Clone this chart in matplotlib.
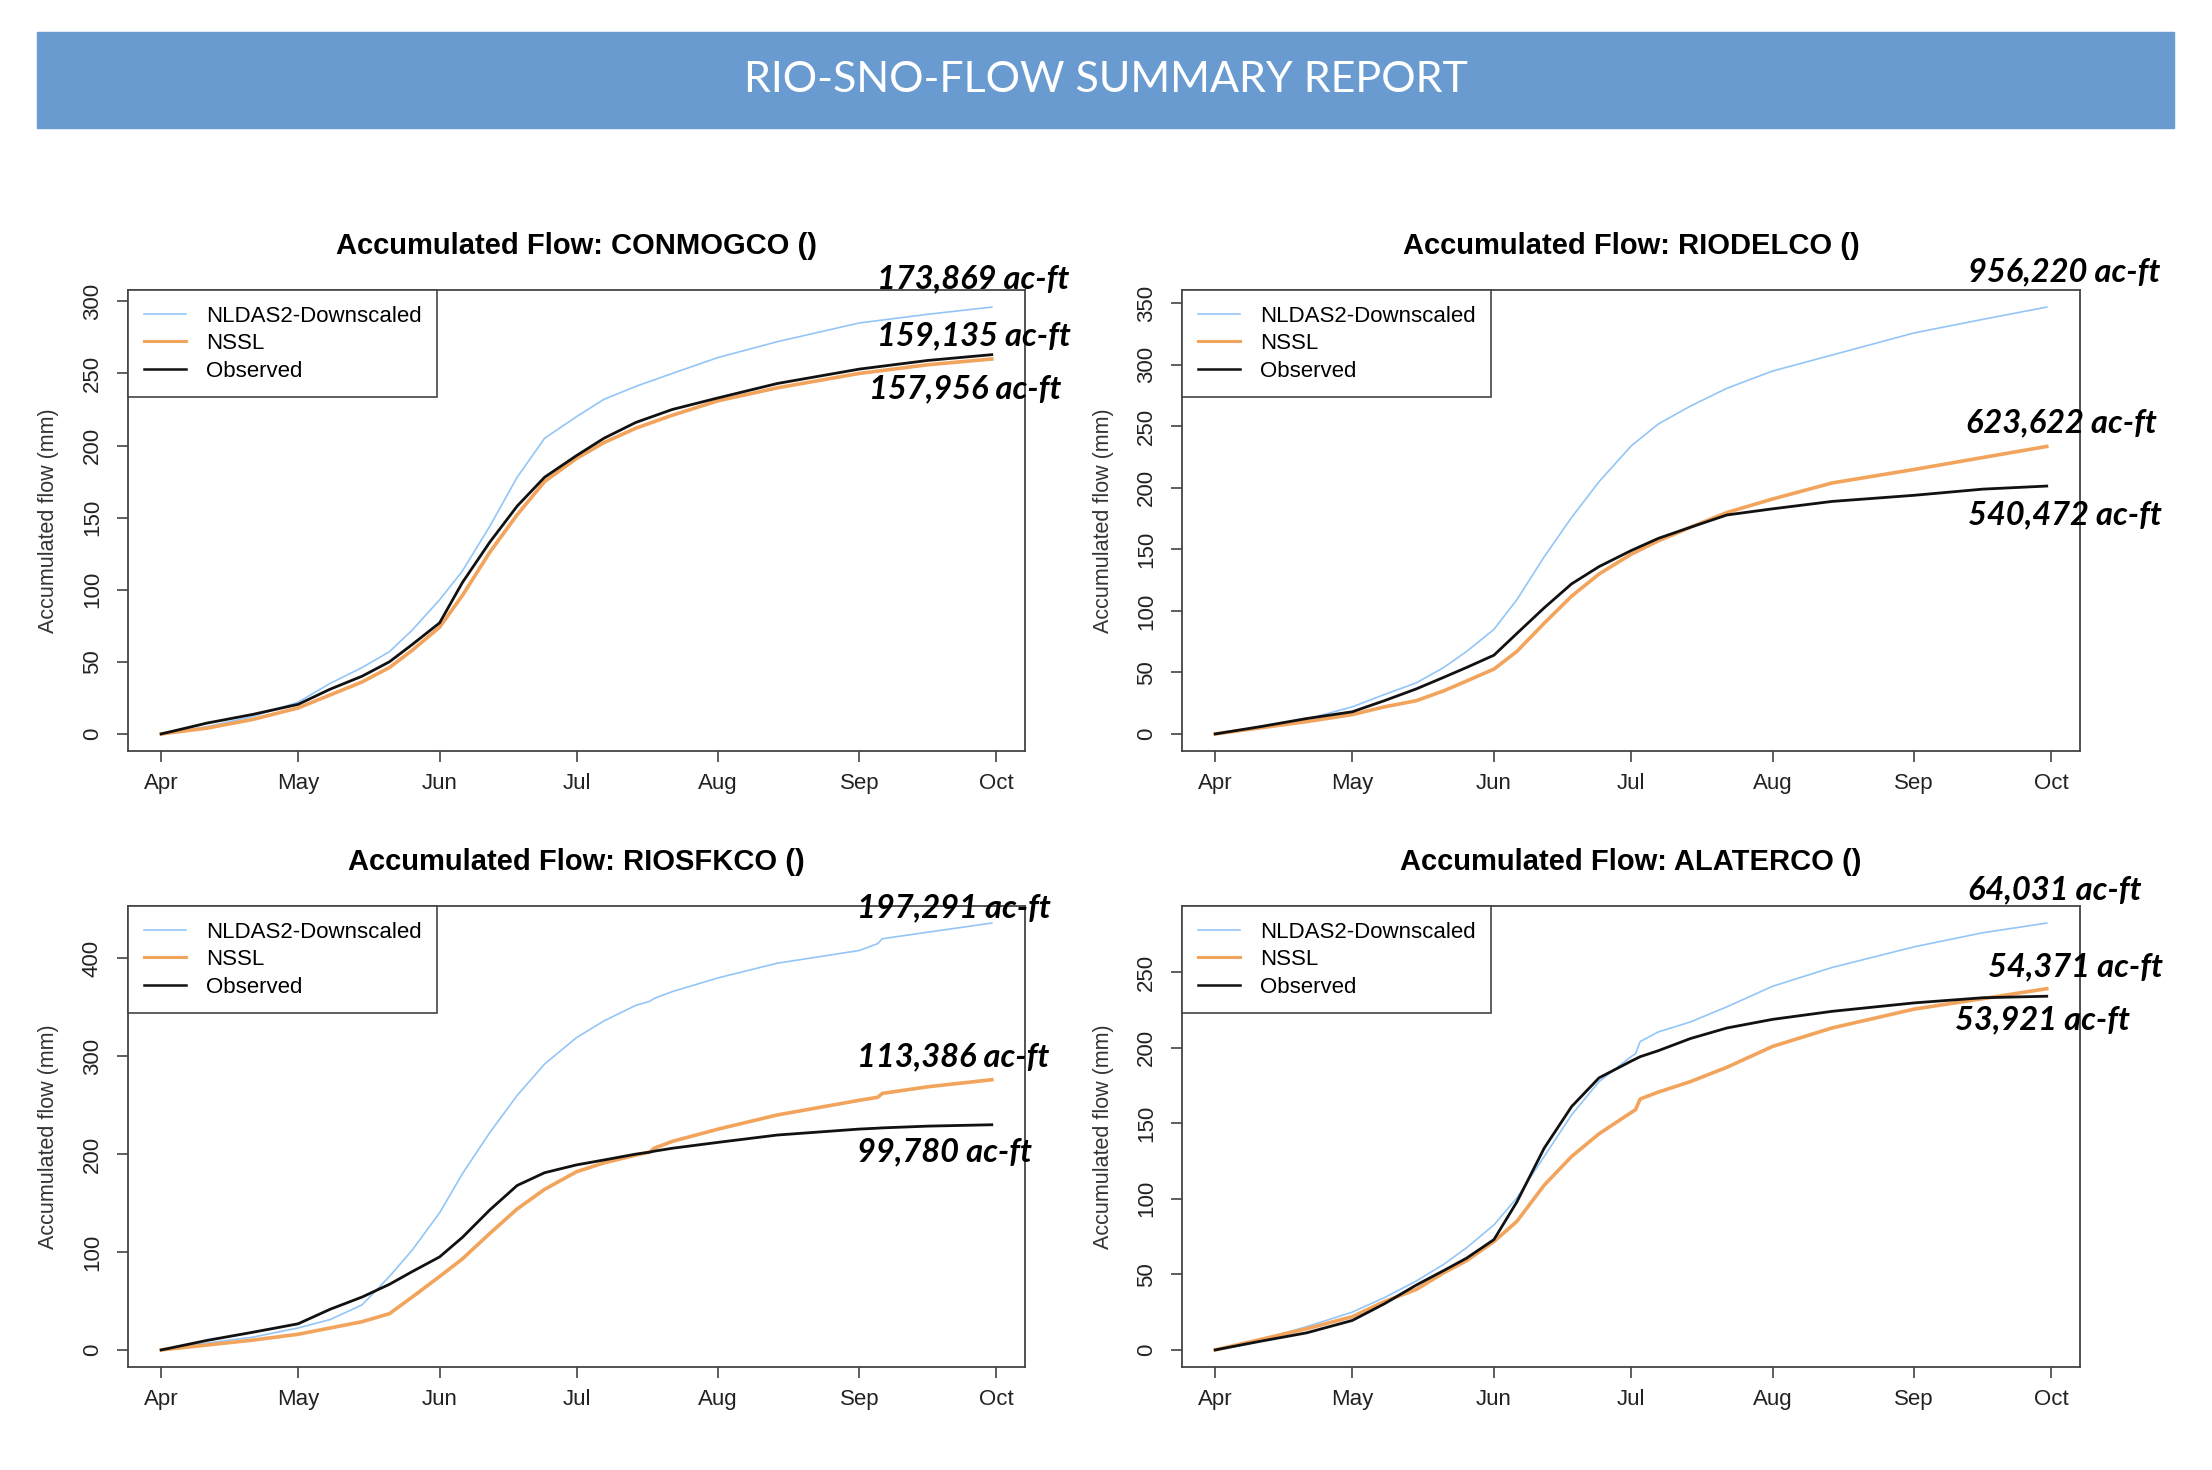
import numpy as np
import matplotlib.pyplot as plt

W, H = 2212, 1470

series_names = ["NLDAS2-Downscaled", "NSSL", "Observed"]
month_labels = ["Apr", "May", "Jun", "Jul", "Aug", "Sep", "Oct"]
month_days = [0, 30, 61, 91, 122, 153, 183]   # days after 1 April

# CONMOGCO
con_days = [0, 10, 20, 30, 37, 44, 50, 55, 61, 66, 72, 78, 84, 91, 97, 104, 112, 122, 135, 153, 168, 182]
con_nldas = [0, 5, 12, 22, 35, 46, 57, 72, 93, 113, 144, 178, 205, 220, 232, 241, 250, 261, 272, 285, 291, 296]
con_nssl = [0, 4, 10, 18, 27, 36, 46, 58, 74, 96, 126, 152, 175, 191, 202, 212, 221, 231, 240, 250, 256, 260]
con_obs = [0, 7.5, 13.5, 20.5, 31, 40, 50, 62, 77, 105, 133, 158, 178, 193, 205, 216, 225, 233, 243, 253, 259, 263]
con_acft = ["173,869 ac-ft", "159,135 ac-ft", "157,956 ac-ft"]

# RIODELCO
rio_days = [0, 10, 20, 30, 37, 44, 50, 55, 61, 66, 72, 78, 84, 91, 97, 104, 112, 122, 135, 153, 168, 182]
rio_nldas = [0, 5.5, 12, 22, 32, 41.5, 54, 67, 85, 109, 144, 176, 205, 234, 252, 266.5, 281, 295, 308, 326, 337, 347]
rio_nssl = [0, 5, 10, 15.7, 22, 27, 35, 43, 52.7, 67, 90, 112, 130, 146, 157, 168, 180, 191, 204, 215, 224.7, 233.7]
rio_obs = [0, 6, 12.5, 18, 27, 36.6, 46, 54, 64, 81.6, 102.5, 122, 136, 149, 159, 168, 178, 183, 189, 194, 199, 201.5]
rio_acft = ["956,220 ac-ft", "623,622 ac-ft", "540,472 ac-ft"]

# RIOSFKCO
sfk_days = [0, 10, 20, 30, 37, 44, 50, 55, 61, 66, 72, 78, 84, 91, 97, 104, 107, 108, 112, 122, 135, 153, 157, 158, 168, 182]
sfk_nldas = [0, 7, 13, 22.4, 31, 46, 75, 102, 140, 180, 222, 260, 292, 319, 336, 352, 356, 359, 366, 380, 395, 408, 415, 420, 426.7, 436]
sfk_nssl = [0, 5, 10, 16, 22.4, 28.8, 37, 54, 75, 93, 119, 144, 164, 182, 191, 199, 202, 206, 213, 225.5, 240, 255, 258, 262, 268.8, 276]
sfk_obs = [0, 9.7, 18, 26.7, 41.5, 54, 67, 80, 95, 115, 143, 168, 181, 189, 194, 200, 202, 203, 206, 212, 219.5, 225.6, 226.5, 226.8, 228.6, 230]
sfk_acft = ["197,291 ac-ft", "113,386 ac-ft", "99,780 ac-ft"]

# ALATERCO
ala_days = [0, 10, 20, 30, 37, 44, 50, 55, 61, 66, 72, 78, 84, 91, 92, 93, 97, 104, 112, 122, 135, 153, 168, 182]
ala_nldas = [0, 6.6, 15.4, 25, 34.6, 45.6, 56.6, 67.6, 82.7, 100.5, 128, 155.5, 177.5, 194, 196, 204, 210.4, 217, 227, 240.6, 253, 266.7, 276, 282.4]
ala_nssl = [0, 7, 14, 22, 32, 40, 51, 59, 71.7, 85, 109, 128, 143, 157, 159, 166, 170.6, 177.5, 187, 200.8, 213, 225.5, 232.4, 239]
ala_obs = [0, 5.8, 11.3, 19.5, 30.5, 42.9, 52.5, 60.7, 73, 97.8, 133.5, 161, 180, 191, 192.5, 194, 198, 206, 213, 218.7, 224, 229.6, 233, 234]
ala_acft = ["64,031 ac-ft", "54,371 ac-ft", "53,921 ac-ft"]

panels = [
    ("CONMOGCO", con_days, con_nldas, con_nssl, con_obs, con_acft, np.arange(0, 301, 50)),
    ("RIODELCO", rio_days, rio_nldas, rio_nssl, rio_obs, rio_acft, np.arange(0, 351, 50)),
    ("RIOSFKCO", sfk_days, sfk_nldas, sfk_nssl, sfk_obs, sfk_acft, np.arange(0, 401, 100)),
    ("ALATERCO", ala_days, ala_nldas, ala_nssl, ala_obs, ala_acft, np.arange(0, 251, 50)),
]

# pixel boxes (left, top, right, bottom) of each plot frame
boxes = [(128, 290, 1025, 751), (1182, 290, 2080, 751),
         (128, 906, 1025, 1367), (1182, 906, 2080, 1367)]
# left x / centre y (pixels) of the ac-ft labels
label_pos = [
    [(877, 279), (877, 336), (869, 389)],
    [(1968, 272), (1966, 423), (1968, 515)],
    [(857, 908), (857, 1057), (857, 1152)],
    [(1968, 890), (1988, 967), (1955, 1020)],
]

colors = ["#93C5F7", "#F2A45C", "#111111"]
widths = [1.2, 2.6, 2.0]
leg_widths = [1.2, 2.2, 1.8]
sans = ["Liberation Sans", "DejaVu Sans"]

fig = plt.figure(figsize=(W / 100, H / 100), dpi=100)

# banner
fig.patches.append(plt.Rectangle((37 / W, 1 - 128 / H), (2174 - 37) / W, 96 / H,
                                 transform=fig.transFigure, color="#699BD0", zorder=0))
fig.text(1106 / W, 1 - 80 / H, "RIO-SNO-FLOW SUMMARY REPORT", color="white",
         fontsize=31, family=["Lato", "DejaVu Sans"], ha="center", va="center")

for (name, days, nldas, nssl, obs, acft, yticks), (l, t, r, b), lp in zip(panels, boxes, label_pos):
    ax = fig.add_axes([l / W, 1 - b / H, (r - l) / W, (b - t) / H])
    for vals, c, lw, lab in zip([nldas, nssl, obs], colors, widths, series_names):
        ax.plot(days, vals, color=c, lw=lw, label=lab)
    ymax = max(max(nldas), max(nssl), max(obs))
    xmax = max(days)
    ax.set_xlim(-0.04 * xmax, 1.04 * xmax)
    ax.set_ylim(-0.04 * ymax, 1.04 * ymax)
    ax.set_xticks(month_days)
    ax.set_xticklabels(month_labels, family=sans)
    ax.set_yticks(yticks)
    ax.set_yticklabels([str(v) for v in yticks], rotation=90, va="center", family=sans)
    ax.tick_params(axis="both", direction="out", length=8, width=1.1, color="#333333",
                   labelsize=16, labelcolor="#222222")
    ax.tick_params(axis="x", pad=8)
    ax.tick_params(axis="y", pad=10)
    for s in ax.spines.values():
        s.set_color("#444444")
        s.set_linewidth(1.3)
    ax.text(0.5, 1 + 44 / (b - t), "Accumulated Flow: %s ()" % name, transform=ax.transAxes,
            ha="center", va="center", fontsize=21, fontweight="bold", family=sans)
    ax.text(-79 / (r - l), 0.5, "Accumulated flow (mm)", transform=ax.transAxes, rotation=90,
            ha="center", va="center", fontsize=15.5, color="#333333", family=sans)
    leg = ax.legend(loc="upper left", bbox_to_anchor=(0, 1), borderaxespad=0, fancybox=False,
                    edgecolor="#444444", framealpha=1, handlelength=1.9,
                    handletextpad=0.9, labelspacing=0.3, borderpad=0.7,
                    prop={"family": sans, "size": 16})
    leg.get_frame().set_linewidth(1.2)
    for h, lw in zip(leg.get_lines(), leg_widths):
        h.set_linewidth(lw)
    for txt, (x, y) in zip(acft, lp):
        fig.text(x / W, 1 - y / H, txt, fontsize=23.5, fontweight="bold", style="italic",
                 family=["Lato", "DejaVu Sans"], ha="left", va="center")

plt.savefig("out.png", dpi=100)
